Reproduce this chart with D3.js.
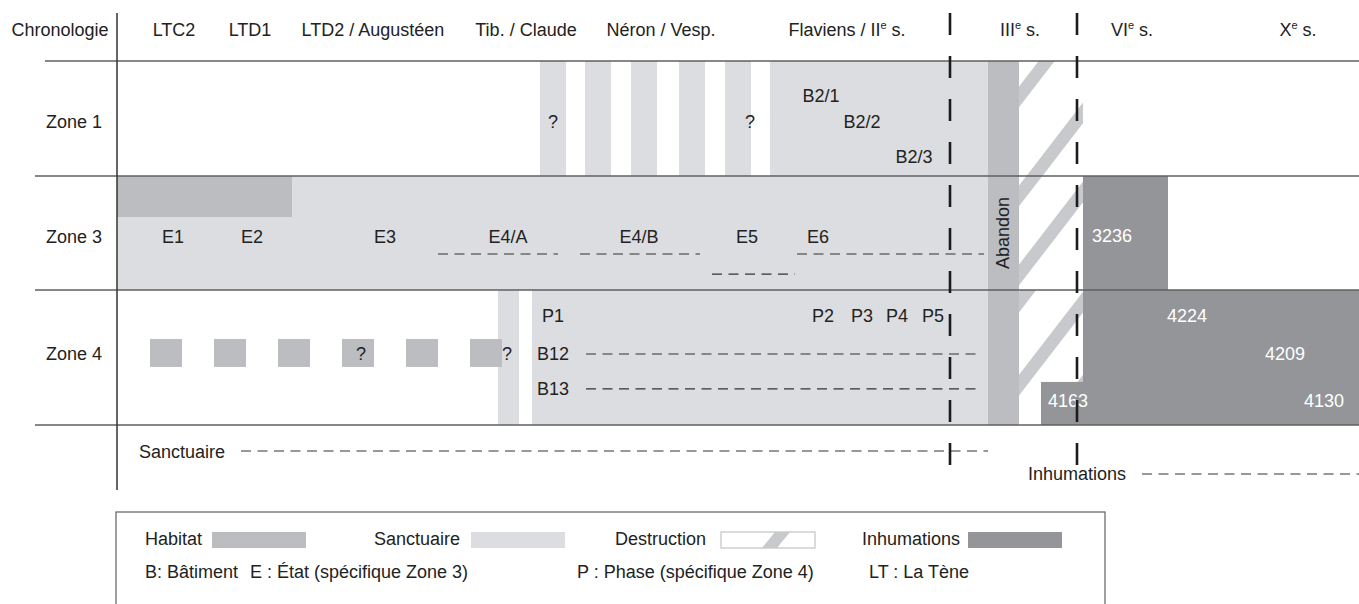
<!DOCTYPE html>
<html>
<head>
<meta charset="utf-8">
<script src="https://cdn.jsdelivr.net/npm/d3@7"></script>
<style>
  body { margin: 0; background: #fff; }
  svg text { font-family: "Liberation Sans", Arial, Helvetica, sans-serif; font-size: 18px; fill: #222; }
</style>
</head>
<body>
<svg id="chart"></svg>
<script>
const WIDTH = 1359
const HEIGHT = 604
const SVG = d3.select('#chart').attr('width', WIDTH).attr('height', HEIGHT)

// ---------- data (timeline units, 0 = start of LTC2) ----------
const periods = ['LTC2', 'LTD1', 'LTD2 / Augustéen', 'Tib. / Claude', 'Néron / Vesp.', 'Flaviens / IIᵉ s.', 'IIIᵉ s.', 'VIᵉ s.', 'Xᵉ s.']
const periodMid = [57, 133, 256, 409, 544, 730, 903, 1015, 1181]
const centuryBreaks = [833, 960]
const zones = ['Zone 1', 'Zone 3', 'Zone 4']

// lo / hi = share of the zone band that is filled
const sanctuaire = [
  { zone: 'Zone 1', from: 423, to: 449 },
  { zone: 'Zone 1', from: 468, to: 494 },
  { zone: 'Zone 1', from: 514, to: 540 },
  { zone: 'Zone 1', from: 562, to: 588 },
  { zone: 'Zone 1', from: 608, to: 634 },
  { zone: 'Zone 1', from: 653, to: 871 },
  { zone: 'Zone 3', from: 0, to: 871 },
  { zone: 'Zone 4', from: 381, to: 402 },
  { zone: 'Zone 4', from: 415, to: 871 }
]
const habitat = [
  { zone: 'Zone 3', from: 0, to: 175, lo: 0, hi: 0.36 },
  { zone: 'Zone 4', from: 33, to: 65, lo: 0.363, hi: 0.57 },
  { zone: 'Zone 4', from: 97, to: 129, lo: 0.363, hi: 0.57 },
  { zone: 'Zone 4', from: 161, to: 193, lo: 0.363, hi: 0.57 },
  { zone: 'Zone 4', from: 225, to: 257, lo: 0.363, hi: 0.57 },
  { zone: 'Zone 4', from: 289, to: 321, lo: 0.363, hi: 0.57 },
  { zone: 'Zone 4', from: 353, to: 385, lo: 0.363, hi: 0.57 }
]
const abandon = { from: 871, to: 902 }
const inhumations = [
  { zone: 'Zone 3', from: 966, to: 1051, lo: 0, hi: 1 },
  { zone: 'Zone 4', from: 966, to: 1242, lo: 0, hi: 1 },
  { zone: 'Zone 4', from: 924, to: 966, lo: 0.681, hi: 1 }
]
const destruction = { from: 902, to: 966 }
// diagonal bands: share of the zone band at the left and right end
const destructionBands = [
  { zone: 'Zone 1', left: 0.313, right: -0.409 },
  { zone: 'Zone 1', left: 1.174, right: 0.452 },
  { zone: 'Zone 3', left: 0.175, right: -0.553 },
  { zone: 'Zone 3', left: 0.868, right: 0.140 },
  { zone: 'Zone 4', left: 0.089, right: -0.526 },
  { zone: 'Zone 4', left: 0.704, right: 0.089 },
  { zone: 'Zone 4', left: 1.319, right: 0.704 }
]
const zoneTexts = [
  { zone: 'Zone 1', text: '?', at: 436, lane: 0.583 },
  { zone: 'Zone 1', text: '?', at: 633, lane: 0.583 },
  { zone: 'Zone 1', text: 'B2/1', at: 704, lane: 0.357 },
  { zone: 'Zone 1', text: 'B2/2', at: 745, lane: 0.583 },
  { zone: 'Zone 1', text: 'B2/3', at: 797, lane: 0.887 },
  { zone: 'Zone 3', text: 'E1', at: 56, lane: 0.588 },
  { zone: 'Zone 3', text: 'E2', at: 135, lane: 0.588 },
  { zone: 'Zone 3', text: 'E3', at: 268, lane: 0.588 },
  { zone: 'Zone 3', text: 'E4/A', at: 391, lane: 0.588 },
  { zone: 'Zone 3', text: 'E4/B', at: 522, lane: 0.588 },
  { zone: 'Zone 3', text: 'E5', at: 630, lane: 0.588 },
  { zone: 'Zone 3', text: 'E6', at: 701, lane: 0.588 },
  { zone: 'Zone 4', text: '?', at: 244, lane: 0.519 },
  { zone: 'Zone 4', text: '?', at: 390, lane: 0.519 },
  { zone: 'Zone 4', text: 'P1', at: 436, lane: 0.237 },
  { zone: 'Zone 4', text: 'P2', at: 706, lane: 0.237 },
  { zone: 'Zone 4', text: 'P3', at: 745, lane: 0.237 },
  { zone: 'Zone 4', text: 'P4', at: 780, lane: 0.237 },
  { zone: 'Zone 4', text: 'P5', at: 816, lane: 0.237 },
  { zone: 'Zone 4', text: 'B12', at: 436, lane: 0.519 },
  { zone: 'Zone 4', text: 'B13', at: 436, lane: 0.778 }
]
const inhumationTexts = [
  { zone: 'Zone 3', text: '3236', at: 995, lane: 0.58 },
  { zone: 'Zone 4', text: '4224', at: 1070, lane: 0.237 },
  { zone: 'Zone 4', text: '4209', at: 1168, lane: 0.519 },
  { zone: 'Zone 4', text: '4163', at: 951, lane: 0.867 },
  { zone: 'Zone 4', text: '4130', at: 1207, lane: 0.867 }
]
const dashRuns = [
  { zone: 'Zone 3', from: 321, to: 441, lane: 0.684 },
  { zone: 'Zone 3', from: 463, to: 583, lane: 0.684 },
  { zone: 'Zone 3', from: 680, to: 867, lane: 0.684 },
  { zone: 'Zone 3', from: 595, to: 678, lane: 0.86 },
  { zone: 'Zone 4', from: 469, to: 863, lane: 0.474 },
  { zone: 'Zone 4', from: 469, to: 863, lane: 0.733 },
  { zone: 'Bas', from: 124, to: 871, lane: 0.40 },
  { zone: 'Bas', from: 1025, to: 1242, lane: 0.754 }
]
const bottomTexts = [
  { text: 'Sanctuaire', at: 22, lane: 0.508 },
  { text: 'Inhumations', at: 911, lane: 0.846 }
]
const legendItems = ['Habitat', 'Sanctuaire', 'Destruction', 'Inhumations']
const legendNotes = ['B: Bâtiment', 'E : État (spécifique Zone 3)', 'P : Phase (spécifique Zone 4)', 'LT : La Tène']

// ---------- colours ----------
const COL = { habitat: '#bcbdc1', sanct: '#dcdde0', destr: '#c8c9cc', inhum: '#949599' }

// ---------- scales / layout ----------
const AXIS_X = 117
const xScale = d3.scaleLinear().domain([0, 1242]).range([AXIS_X, WIDTH])
const rowNames = ['Zone 1', 'Zone 3', 'Zone 4', 'Bas']
const rowEdges = [61, 176, 290, 425, 490]
const rowScale = {}
rowNames.forEach((r, i) => {
  rowScale[r] = d3.scaleLinear().domain([0, 1]).range([rowEdges[i], rowEdges[i + 1]])
})

// text with a superscript "e"
function setLabel (sel, str) {
  const parts = str.split('ᵉ')
  sel.text(parts[0])
  if (parts.length > 1) {
    sel.append('tspan').attr('font-size', 11).attr('dy', -7).text('e')
    sel.append('tspan').attr('dy', 7).text(parts[1])
  }
}

function drawRects (g, data, fill) {
  g.selectAll(null).data(data).enter().append('rect')
    .attr('x', d => xScale(d.from))
    .attr('width', d => xScale(d.to) - xScale(d.from))
    .attr('y', d => rowScale[d.zone](d.lo ?? 0))
    .attr('height', d => rowScale[d.zone](d.hi ?? 1) - rowScale[d.zone](d.lo ?? 0))
    .attr('fill', fill)
}

const marks = SVG.append('g')

drawRects(marks, sanctuaire, COL.sanct)
drawRects(marks, habitat, COL.habitat)

// abandon column from zone 1 to zone 4
marks.append('rect')
  .attr('x', xScale(abandon.from)).attr('width', xScale(abandon.to) - xScale(abandon.from))
  .attr('y', rowScale['Zone 1'](0)).attr('height', rowScale['Zone 4'](1) - rowScale['Zone 1'](0))
  .attr('fill', COL.habitat)

// destruction bands, clipped per zone
const defs = SVG.append('defs')
zones.forEach((z, i) => {
  defs.append('clipPath').attr('id', 'clip' + i).append('rect')
    .attr('x', xScale(destruction.from)).attr('width', xScale(destruction.to) - xScale(destruction.from))
    .attr('y', rowScale[z](0)).attr('height', rowScale[z](1) - rowScale[z](0))
})
const HALF = 8
destructionBands.forEach(b => {
  const x0 = xScale(destruction.from), x1 = xScale(destruction.to)
  const y0 = rowScale[b.zone](b.left), y1 = rowScale[b.zone](b.right)
  const p = t => [x0 + t * (x1 - x0), y0 + t * (y1 - y0)]
  const a = p(-1), c = p(2)
  marks.append('polygon')
    .attr('points', [[a[0] - HALF, a[1]], [c[0] - HALF, c[1]], [c[0] + HALF, c[1]], [a[0] + HALF, a[1]]].join(' '))
    .attr('fill', COL.destr)
    .attr('clip-path', 'url(#clip' + zones.indexOf(b.zone) + ')')
})

drawRects(marks, inhumations, COL.inhum)

// separators
SVG.append('g').selectAll('line').data(rowEdges.slice(0, 4)).enter().append('line')
  .attr('x1', (d, i) => i === 0 ? 45 : 35).attr('x2', WIDTH)
  .attr('y1', d => d).attr('y2', d => d)
  .attr('stroke', '#5f5f5f').attr('stroke-width', 1.4)
SVG.append('line')
  .attr('x1', AXIS_X).attr('x2', AXIS_X).attr('y1', 13).attr('y2', 490)
  .attr('stroke', '#333').attr('stroke-width', 1.5)

// header
SVG.append('text').attr('x', 60).attr('y', 36).attr('text-anchor', 'middle').text('Chronologie')
SVG.append('g').selectAll('text').data(periods).enter().append('text')
  .attr('x', (d, i) => xScale(periodMid[i])).attr('y', 36).attr('text-anchor', 'middle')
  .each(function (d) { setLabel(d3.select(this), d) })

// zone names
const zoneNameLane = [0.583, 0.588, 0.519]
SVG.append('g').selectAll('text').data(zones).enter().append('text')
  .attr('x', 74).attr('y', (d, i) => rowScale[d](zoneNameLane[i])).attr('text-anchor', 'middle')
  .text(d => d)

// labels in zones
SVG.append('g').selectAll('text').data(zoneTexts).enter().append('text')
  .attr('x', d => xScale(d.at)).attr('y', d => rowScale[d.zone](d.lane))
  .attr('text-anchor', d => /^(P1|B12|B13)$/.test(d.text) ? 'middle' : 'middle')
  .text(d => d.text)
SVG.append('g').selectAll('text').data(inhumationTexts).enter().append('text')
  .attr('x', d => xScale(d.at)).attr('y', d => rowScale[d.zone](d.lane))
  .attr('text-anchor', 'middle').style('fill', '#fff')
  .text(d => d.text)
SVG.append('text')
  .attr('transform', `translate(${xScale(abandon.to) - 10},${rowScale['Zone 3'](0.5)}) rotate(-90)`)
  .attr('text-anchor', 'middle').text('Abandon')

// thin dashed runs
SVG.append('g').selectAll('line').data(dashRuns).enter().append('line')
  .attr('x1', d => xScale(d.from)).attr('x2', d => xScale(d.to))
  .attr('y1', d => rowScale[d.zone](d.lane)).attr('y2', d => rowScale[d.zone](d.lane))
  .attr('stroke', '#333').attr('stroke-width', 1.2).attr('stroke-dasharray', '10,6.5')
SVG.append('g').selectAll('text').data(bottomTexts).enter().append('text')
  .attr('x', d => xScale(d.at)).attr('y', d => rowScale['Bas'](d.lane))
  .text(d => d.text)

// century breaks
SVG.append('g').selectAll('line').data(centuryBreaks).enter().append('line')
  .attr('x1', d => xScale(d)).attr('x2', d => xScale(d))
  .attr('y1', 13).attr('y2', 465)
  .attr('stroke', '#1c1c1c').attr('stroke-width', 2.6).attr('stroke-dasharray', '22,21')

// legend
const legend = SVG.append('g')
legend.append('rect').attr('x', 116).attr('y', 512).attr('width', 989).attr('height', 140)
  .attr('fill', 'none').attr('stroke', '#5f5f5f').attr('stroke-width', 1.2)
const legendTextX = [145, 374, 615, 862]
const legendSwatchX = [212, 471, 721, 968]
const legendFill = [COL.habitat, COL.sanct, '#fff', COL.inhum]
legend.selectAll('text.item').data(legendItems).enter().append('text').attr('class', 'item')
  .attr('x', (d, i) => legendTextX[i]).attr('y', 545).text(d => d)
legend.selectAll('rect.sw').data(legendItems).enter().append('rect').attr('class', 'sw')
  .attr('x', (d, i) => legendSwatchX[i]).attr('y', 532).attr('width', 94).attr('height', 16)
  .attr('fill', (d, i) => legendFill[i])
  .attr('stroke', (d, i) => i === 2 ? '#b5b5b5' : 'none').attr('stroke-width', 1)
legend.append('polygon')
  .attr('points', [[762, 548], [777, 548], [790, 532], [775, 532]].join(' '))
  .attr('fill', COL.destr)
const noteX = [145, 250, 577, 869]
legend.selectAll('text.note').data(legendNotes).enter().append('text').attr('class', 'note')
  .attr('x', (d, i) => noteX[i]).attr('y', 578).text(d => d)
</script>
</body>
</html>
